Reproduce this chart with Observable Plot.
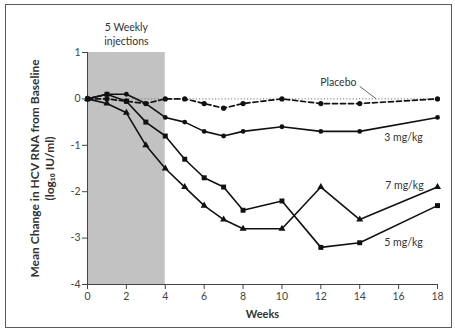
<!DOCTYPE html>
<html><head><meta charset="utf-8">
<script src="https://cdn.jsdelivr.net/npm/d3@7"></script>
<script src="https://cdn.jsdelivr.net/npm/@observablehq/plot@0.6"></script>
<style>
body{margin:0;background:#fff;font-family:Lato,"Open Sans",sans-serif;}
#wrap{position:relative;width:455px;height:333px;}
#border{position:absolute;left:5px;top:4px;width:445px;height:322px;border:1.5px solid #5a5a5a;pointer-events:none;}
</style></head><body><div id="wrap"><div id="border"></div></div>
<script>
const weeks   = [0, 1, 2, 3, 4, 5, 6, 7, 8, 10, 12, 14, 18];
const placebo = [0, 0, -0.05, -0.1, 0, 0, -0.1, -0.2, -0.1, 0, -0.1, -0.1, 0];
const mg3     = [0, 0.1, 0.1, -0.1, -0.4, -0.5, -0.7, -0.8, -0.7, -0.6, -0.7, -0.7, -0.4];
const mg5     = [0, 0.1, -0.05, -0.5, -0.8, -1.3, -1.7, -1.9, -2.4, -2.2, -3.2, -3.1, -2.3];
const mg7     = [0, -0.1, -0.3, -1.0, -1.5, -1.9, -2.3, -2.6, -2.8, -2.8, -1.9, -2.6, -1.9];

const xTicks = [0, 2, 4, 6, 8, 10, 12, 14, 16, 18];
const yTicks = [-4, -3, -2, -1, 0, 1];
const injection = {start: 0, end: 4, label: "5 Weekly\ninjections"};

const seriesLabels = ["Placebo", "3 mg/kg", "7 mg/kg", "5 mg/kg"];
const labelX = [12.9, 16.25, 16.3, 16.25];
const labelY = [0.36, -0.84, -1.86, -3.1];
const leader = {x1: 14.0, y1: 0.27, x2: 14.85, y2: 0.0};

const toRows = (vals) => weeks.map((w, i) => ({w, v: vals[i]}));
const P = toRows(placebo), A = toRows(mg3), B = toRows(mg5), C = toRows(mg7);
const labelRows = seriesLabels.map((t, i) => ({t, x: labelX[i], y: labelY[i]}));

const axisColor = "#444";
const chart = Plot.plot({
  width: 455, height: 333,
  marginLeft: 87, marginRight: 18, marginTop: 52, marginBottom: 49,
  style: {fontFamily: "Lato, 'Open Sans', sans-serif", background: "transparent"},
  x: {domain: [0, 18]},
  y: {domain: [-4, 1]},
  marks: [
    Plot.rect([injection], {x1: "start", x2: "end", y1: -4, y2: 1, fill: "#c2c2c2"}),
    Plot.ruleY([0], {x1: 0, x2: 18, stroke: "#777", strokeDasharray: "1.2,2", strokeWidth: 1}),
    Plot.ruleX([0], {y1: -4, y2: 1, stroke: axisColor, strokeWidth: 1}),
    Plot.ruleY([-4], {x1: 0, x2: 18, stroke: axisColor, strokeWidth: 1}),
    Plot.axisX({ticks: xTicks, tickSize: 5, tickPadding: 3, tickFormat: d => String(d), label: null, fontSize: 10.5, color: axisColor}),
    Plot.axisY({ticks: yTicks, tickSize: 5, tickPadding: 2, tickFormat: d => String(d), label: null, fontSize: 10.5, color: axisColor}),
    Plot.line(P, {x: "w", y: "v", stroke: "#111", strokeWidth: 1.7, strokeDasharray: "5,3"}),
    Plot.line(A, {x: "w", y: "v", stroke: "#111", strokeWidth: 1.6}),
    Plot.line(B, {x: "w", y: "v", stroke: "#111", strokeWidth: 1.6}),
    Plot.line(C, {x: "w", y: "v", stroke: "#111", strokeWidth: 1.6}),
    Plot.dot(P, {x: "w", y: "v", symbol: "circle", r: 2.6, fill: "#111"}),
    Plot.dot(A, {x: "w", y: "v", symbol: "circle", r: 2.4, fill: "#111"}),
    Plot.dot(B, {x: "w", y: "v", symbol: "square", r: 2.8, fill: "#111"}),
    Plot.dot(C, {x: "w", y: "v", symbol: "triangle", r: 2.6, fill: "#111"}),
    Plot.text(labelRows, {x: "x", y: "y", text: "t", fontSize: 10.5, fill: "#333"}),
    Plot.link([leader], {x1: "x1", y1: "y1", x2: "x2", y2: "y2", stroke: "#555", strokeWidth: 0.9}),
    Plot.text([injection], {x: d => (d.start + d.end) / 2, y: 1, text: "label", dy: -19, fontSize: 10.5, lineHeight: 1.35, fill: "#333"}),
    Plot.text(["Mean Change in HCV RNA from Baseline"], {frameAnchor: "left", textAnchor: "middle", rotate: -90, dx: -52, fontSize: 12, fontWeight: "bold", fill: "#333"}),
    Plot.text(["(log\u2081\u2080 IU/ml)"], {frameAnchor: "left", textAnchor: "middle", rotate: -90, dx: -37, fontSize: 12, fontWeight: "bold", fill: "#333"}),
    Plot.text(["Weeks"], {frameAnchor: "bottom", dy: 33, fontSize: 11, fontWeight: "bold", fill: "#333"})
  ]
});
document.getElementById("wrap").prepend(chart);
</script>
</body></html>
